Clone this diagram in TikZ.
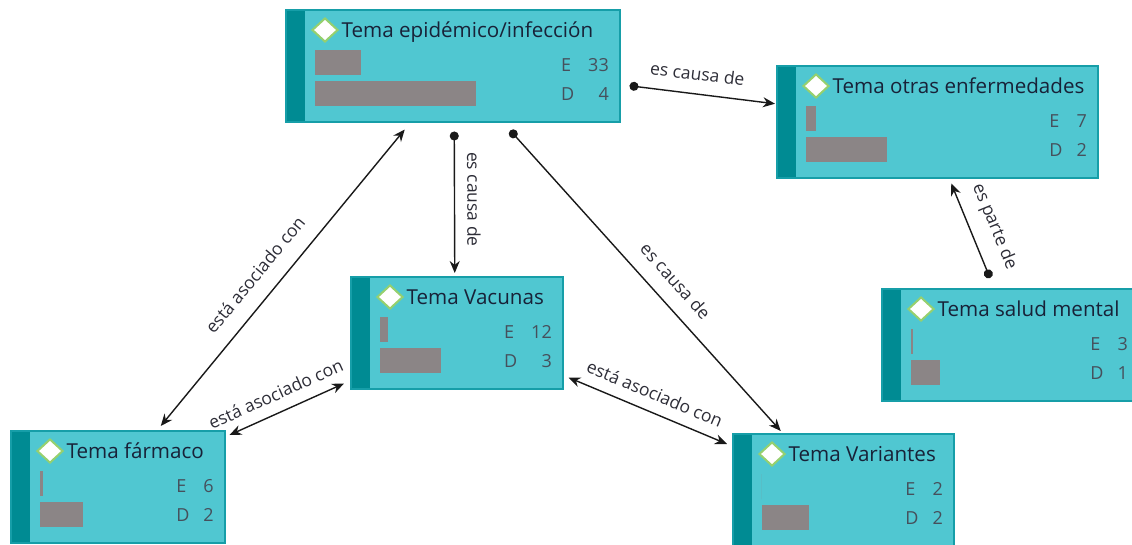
\documentclass[tikz,border=0pt]{standalone}
\usepackage{fontspec}
\setmainfont{Open Sans}
\usepackage{tikz}
\usetikzlibrary{arrows.meta,shapes.geometric,positioning,calc}
\usepackage{xcolor}
\definecolor{tmfill}{RGB}{80,199,209}
\definecolor{tmborder}{RGB}{22,158,168}
\definecolor{tmstripe}{RGB}{0,139,147}
\definecolor{tmbar}{RGB}{139,133,134}
\definecolor{tmgreen}{RGB}{150,208,110}
\definecolor{tmtitle}{RGB}{24,34,56}
\definecolor{tmstat}{RGB}{70,80,92}
\definecolor{tmline}{RGB}{25,25,25}
\definecolor{tmlabel}{RGB}{45,45,55}
\newcommand{\titlefont}{\fontsize{20.6}{24}\selectfont}
\newcommand{\statfont}{\fontsize{18}{29}\selectfont}
\newcommand{\labelfont}{\fontsize{17.5}{20}\selectfont}
\tikzstyle{arrow} = [line width=1.4pt, color=tmline, >={Stealth[length=12pt,width=10pt]}]
\tikzstyle{cause} = [arrow, {Circle[length=9pt]}->]
\tikzstyle{assoc} = [arrow, <->]
\tikzstyle{edgelabel} = [font=\labelfont, text=tmlabel, sloped, inner sep=2pt]
\tikzstyle{topicbox} = [rectangle, anchor=north west, draw=tmborder, fill=tmfill, line width=1.5pt, minimum height=112pt, inner sep=0pt,
  path picture={\fill[tmstripe] (path picture bounding box.north west) rectangle ([xshift=19pt]path picture bounding box.south west);}]
\tikzstyle{diamondmark} = [diamond, draw=tmgreen, fill=white, line width=2pt, minimum width=26pt, minimum height=24pt, inner sep=0pt]
\tikzstyle{titletext} = [anchor=base west, inner sep=0pt, font=\titlefont, text=tmtitle]
\tikzstyle{stattext} = [anchor=base east, inner sep=0pt, font=\statfont, text=tmstat]
% #1 name, #2 x, #3 y, #4 width, #5 title, #6 bar E, #7 bar D, #8 E, #9 D
\newcommand{\topic}[9]{%
  \node[topicbox, minimum width=#4pt] (#1) at (#2,#3) {};
  \node[diamondmark] (#1-mark) at ([xshift=40pt,yshift=-21pt]#1.north west) {};
  \node[titletext] (#1-title) at ([xshift=56.5pt,yshift=-28.5pt]#1.north west) {#5};
  \fill[tmbar] ([xshift=29.5pt,yshift=-41pt]#1.north west) rectangle ++(#6pt,-25pt);
  \fill[tmbar] ([xshift=29.5pt,yshift=-71.5pt]#1.north west) rectangle ++(#7pt,-25.5pt);
  \node[stattext] (#1-stats) at ([xshift=-11.5pt,yshift=-91pt]#1.north east)
    {\begin{tabular}[b]{@{}l@{\hspace{14pt}}r@{}}E & #8\\ D & #9\end{tabular}};
}

\begin{document}
\begin{tikzpicture}[x=1pt,y=-1pt]
\useasboundingbox (0,0) rectangle (1132,544);

% Topics
\topic{epi}{285}{9}{334}{Tema epidémico/infección}{46}{161}{33}{4}
\topic{otras}{776}{65}{321}{Tema otras enfermedades}{10}{81}{7}{2}
\topic{vac}{350}{276}{212}{Tema Vacunas}{8}{61}{12}{3}
\topic{farm}{10}{430}{214}{Tema fármaco}{3.4}{43}{6}{2}
\topic{var}{732}{433}{221}{Tema Variantes}{0}{47}{2}{2}
\topic{salud}{881}{288}{257}{Tema salud mental}{2.3}{29}{3}{1}

% Arrows
\draw[cause] ([xshift=9pt,yshift=-20pt]epi.east) -- node[edgelabel, above=11pt, pos=0.45] {es causa de} ([xshift=-1pt,yshift=18pt]otras.west);
\draw[cause] ([xshift=1.5pt,yshift=-9pt]epi.south) -- node[edgelabel, above=10pt, pos=0.48] {es causa de} ([xshift=-2pt,yshift=3pt]vac.north);
\draw[cause] ([xshift=57.5pt,yshift=-8pt]epi.south) -- node[edgelabel, above=13pt, pos=0.55] {es causa de} ([xshift=-62.5pt,yshift=2pt]var.north);
\draw[assoc] ([xshift=43pt,yshift=4pt]farm.north) -- node[edgelabel, above=14pt, pos=0.46] {está asociado con} ([xshift=-48pt,yshift=-7pt]epi.south);
\draw[assoc] ([xshift=4pt,yshift=-5pt]farm.north east) -- node[edgelabel, above=9pt, pos=0.47] {está asociado con} ([xshift=-6pt,yshift=6pt]vac.south west);
\draw[assoc] ([xshift=5pt,yshift=12pt]vac.south east) -- node[edgelabel, above=9pt, pos=0.5] {está asociado con} ([xshift=-5pt,yshift=-11pt]var.north west);
\draw[cause] ([xshift=109pt,yshift=10pt]salud.north west) -- node[edgelabel, above=12pt, pos=0.45] {es parte de} ([xshift=14pt,yshift=-5pt]otras.south);
\end{tikzpicture}
\end{document}
